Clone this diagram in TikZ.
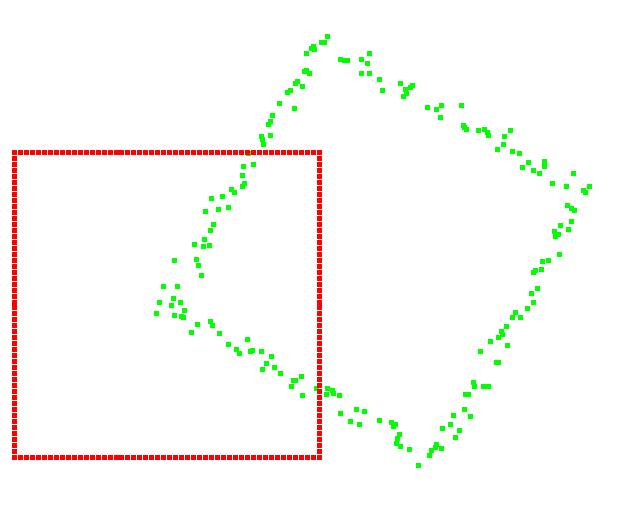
\documentclass[tikz,border=0pt]{standalone}
\usepackage{xcolor}
\usepackage{tikz}
\definecolor{ptgreen}{HTML}{00FF00}
\definecolor{ptred}{HTML}{FF0000}
\tikzset{
  greendot/.style={fill=ptgreen},
  reddot/.style={fill=ptred}
}
\newcommand{\sqpt}[3]{\fill[#1] (#2-2.5,#3-2.5) rectangle ++(5,5);}

\begin{document}
\begin{tikzpicture}[x=1pt, y=-1pt]
  \useasboundingbox (0,0) rectangle (618,512);
  % scanned points (rotated square)
  \foreach \px/\py in {327/36.3, 323.3/42, 321/42, 324.3/42, 311.3/48.3, 313.7/46.7, 314.7/49.7, 306/53.7,
      304.3/71.7, 306.7/70.7, 309.3/73, 297.3/81.3, 295.3/83, 302.3/86.7, 290.3/90.7, 287.3/92.3,
      279.7/103.3, 294.3/108.3, 272.7/115, 270/121.7, 268/124, 261/136, 262/139, 263/144, 270.3/135.7,
      248.3/153.3, 243.7/166.7, 253/164.3, 242.7/175.3, 244.3/183.3, 242.3/186.3, 231/189, 234.3/192.3,
      211.7/198.7, 222/196.7, 205/211.3, 218.3/209.7, 228/207.7, 213.7/224.3, 210.3/230, 204.3/239.3,
      194.3/244.3, 203/246.3, 209/245, 196.7/259.3, 174.3/260.7, 198.3/265.3, 201.7/275.3, 163/286.3,
      177/286.3, 173.3/298.7, 159/302, 171/305.7, 180/302.7, 184.7/310, 156.7/313.7, 174.3/315,
      181/316, 183.3/317,
      197/324.7, 210.7/321.7, 212.3/325, 191.7/332, 219/333, 228.3/344, 247/339.5, 236/349.3,
      239/353.3, 250.3/351.7, 252.7/350.3, 261.7/351.7, 271.3/356.7, 266/363, 262.7/369, 274.7/367.3,
      280.7/373.7, 301/376.3, 293.7/380, 295.3/380.7, 291.3/386, 302/395, 316.5/388.2, 327.3/388,
      326.3/394, 332.5/390.5, 333.3/393.3, 339.5/395, 340.3/413.3, 350.7/421, 356.3/409.7, 359.3/424.7,
      364.7/411.7, 379/420, 391/422.7, 395.7/424, 393/426.3, 399.7/434.3, 397.7/438, 396.3/443.3,
      400.3/446.3, 409.3/449.3, 418.7/465.3,
      429/455, 431.7/450.3, 435.7/447, 436.3/444.3, 441.3/448.7, 442/428.7, 455/437.3, 450.3/424,
      459.3/430.7, 453.3/415.3, 464.7/409.7, 470/416.3, 465.2/394.5, 468.7/394.7, 473.3/382.3,
      474.3/386.5, 483.3/386.2, 488/386.7, 480/351.3, 496.3/362.3, 498.3/362.3, 490.7/341.3,
      507.3/345.7, 498.3/337, 501.7/331.3, 502.7/334.3, 506.7/326.7, 512.3/317.3, 520.7/317.7,
      515.7/312.3, 527.7/308.3, 533.7/302.3, 531.3/293.7, 537/288.3, 535.3/270, 533.7/272.7,
      541/269.7, 542/261.3, 548.3/260, 559.7/254.3, 555.3/236.3, 558.3/234, 554.3/231, 560.3/225.7,
      568.7/229.3, 571.7/221, 567.3/205.5, 571/208, 574/210.7,
      589/186.7, 583.3/190.7, 585.3/192.7, 566/186.7, 552.7/183, 573.3/173.3, 539.3/173, 533.3/170.7,
      522/167, 528.7/162.3, 544/161.3, 544.7/166, 519.3/153.3, 512.7/151.3, 497.3/149.3, 503.3/144,
      504.7/136.3, 510/130.3, 488/135, 487.3/132.3, 484.7/129.7, 478.7/130.3, 466.3/129, 464.7/127,
      463.7/125, 461/105.7, 440.3/117.3, 441.7/105.3, 436.3/109.7, 427/107.3, 412.3/85.3, 410/87.3,
      406.7/93.3, 403.3/96.3, 405/89, 400.7/83, 382.3/90.3, 379.7/79.7, 369.7/73.7, 361.3/73.3,
      367/63, 369.7/53.3, 361.3/59, 347/60.7, 344/60, 340.7/59.3}
    {\sqpt{greendot}{\px}{\py}}
  % model square
  \foreach \i in {0,...,51} {
    \sqpt{reddot}{14.5+\i*5.971}{152.5}
    \sqpt{reddot}{14.5+\i*5.971}{457.5}
    \sqpt{reddot}{14.5}{152.5+\i*5.980}
    \sqpt{reddot}{319}{152.5+\i*5.980}
  }
\end{tikzpicture}
\end{document}
